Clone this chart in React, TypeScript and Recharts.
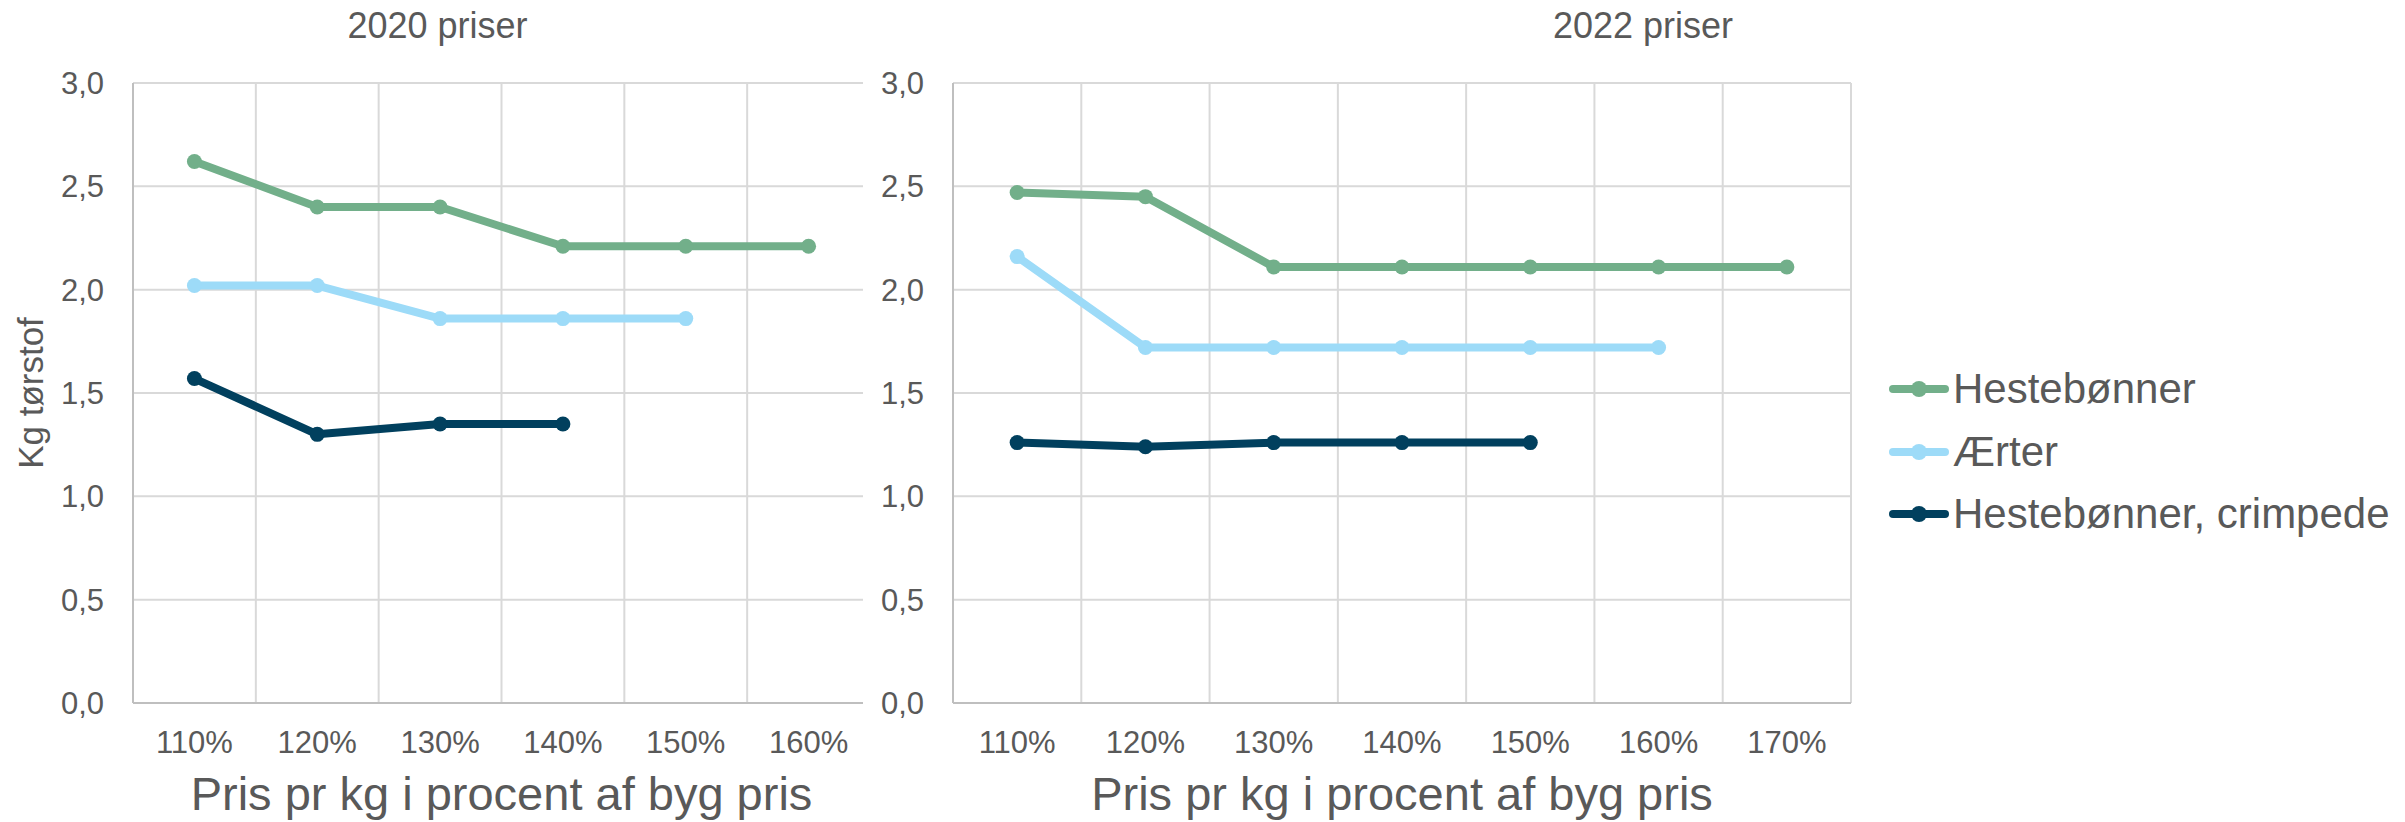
import React from 'react';
import { LineChart, Line, XAxis, YAxis, CartesianGrid, Legend } from 'recharts';

// kategorier (pris i procent af byg pris)
const kat2020 = ['110%', '120%', '130%', '140%', '150%', '160%'];
const kat2022 = ['110%', '120%', '130%', '140%', '150%', '160%', '170%'];

// kg tørstof, 2020 priser
const heste2020 = [2.62, 2.4, 2.4, 2.21, 2.21, 2.21];
const aerter2020 = [2.02, 2.02, 1.86, 1.86, 1.86, null];
const crimp2020 = [1.57, 1.3, 1.35, 1.35, null, null];

// kg tørstof, 2022 priser
const heste2022 = [2.47, 2.45, 2.11, 2.11, 2.11, 2.11, 2.11];
const aerter2022 = [2.16, 1.72, 1.72, 1.72, 1.72, 1.72, null];
const crimp2022 = [1.26, 1.24, 1.26, 1.26, 1.26, null, null];

const yTicks = [0, 0.5, 1, 1.5, 2, 2.5, 3];

const seriesNames = ['Hestebønner', 'Ærter', 'Hestebønner, crimpede'];
const seriesColors = ['#72AF8A', '#9DDBF8', '#01405E'];

const FONT = "'Liberation Sans', Arial, sans-serif";
const TEXT = '#595959';
const GRID = '#D9D9D9';
const AXIS = '#BFBFBF';

const rows2020 = kat2020.map((pris, i) => ({
  pris,
  heste: heste2020[i],
  aerter: aerter2020[i],
  crimp: crimp2020[i],
}));

const rows2022 = kat2022.map((pris, i) => ({
  pris,
  heste: heste2022[i],
  aerter: aerter2022[i],
  crimp: crimp2022[i],
}));

const fmt = (v: number) => v.toFixed(1).replace('.', ',');

function LegendBox({ payload }: any) {
  // keep the series order, recharts sorts the payload by name
  const items = [...(payload || [])].sort(
    (a: any, b: any) => seriesNames.indexOf(a.value) - seriesNames.indexOf(b.value)
  );
  return (
    <div style={{ fontFamily: FONT, fontSize: 42, color: TEXT, whiteSpace: 'nowrap' }}>
      {items.map((p: any) => (
        <div key={p.value} style={{ display: 'flex', alignItems: 'center', height: 62.5 }}>
          <svg width={64} height={20} style={{ display: 'block' }}>
            <line x1={4} y1={10} x2={56} y2={10} stroke={p.color} strokeWidth={8} strokeLinecap="round" />
            <circle cx={30} cy={10} r={8} fill={p.color} />
          </svg>
          <span style={{ lineHeight: '42px' }}>{p.value}</span>
        </div>
      ))}
    </div>
  );
}

interface PanelProps {
  data: any[];
  width: number;
  yAxisWidth: number;
  marginRight: number;
  yLabel?: boolean;
  legend?: boolean;
}

function Panel({ data, width, yAxisWidth, marginRight, yLabel, legend }: PanelProps) {
  const plotWidth = width - yAxisWidth - marginRight;
  const pad = plotWidth / data.length / 2;

  return (
    <LineChart
      width={width}
      height={822}
      data={data}
      margin={{ top: 83, right: marginRight, left: 0, bottom: 0 }}
    >
      <CartesianGrid
        stroke={GRID}
        strokeWidth={2}
        verticalCoordinatesGenerator={({ offset }: any) =>
          data.map((_, i) => offset.left + (offset.width * (i + 1)) / data.length)
        }
      />
      <XAxis
        dataKey="pris"
        type="category"
        interval={0}
        padding={{ left: pad, right: pad }}
        height={119}
        axisLine={{ stroke: AXIS, strokeWidth: 2 }}
        tickLine={false}
        tickSize={0}
        tickMargin={28}
        tick={{ fill: TEXT, fontSize: 31, fontFamily: FONT }}
        label={{
          value: 'Pris pr kg i procent af byg pris',
          position: 'insideBottom',
          offset: 12,
          fill: TEXT,
          fontSize: 47,
          fontFamily: FONT,
        }}
      />
      <YAxis
        type="number"
        domain={[0, 3]}
        ticks={yTicks}
        width={yAxisWidth}
        tickFormatter={fmt}
        axisLine={{ stroke: AXIS, strokeWidth: 2 }}
        tickLine={false}
        tickSize={0}
        tickMargin={29}
        tick={{ fill: TEXT, fontSize: 31, fontFamily: FONT }}
        label={
          yLabel
            ? {
                value: 'Kg tørstof',
                angle: -90,
                position: 'insideLeft',
                offset: 31,
                fill: TEXT,
                fontSize: 35,
                fontFamily: FONT,
                style: { textAnchor: 'middle' },
              }
            : undefined
        }
      />
      {legend && (
        <Legend
          layout="vertical"
          align="center"
          verticalAlign="middle"
          content={<LegendBox />}
          wrapperStyle={{ left: 1009, top: 358, width: 520 }}
        />
      )}
      {['heste', 'aerter', 'crimp'].map((key, i) => (
        <Line
          key={key}
          dataKey={key}
          name={seriesNames[i]}
          stroke={seriesColors[i]}
          strokeWidth={8}
          strokeLinejoin="round"
          dot={{ r: 7.5, fill: seriesColors[i], stroke: seriesColors[i], strokeWidth: 0 }}
          activeDot={false}
          isAnimationActive={false}
        />
      ))}
    </LineChart>
  );
}

export default function App() {
  const title: React.CSSProperties = {
    position: 'absolute',
    top: 7.5,
    width: 400,
    textAlign: 'center',
    fontFamily: FONT,
    fontSize: 36,
    lineHeight: '36px',
    color: TEXT,
  };

  return (
    <div style={{ position: 'absolute', left: 0, top: 0, width: 2405, height: 822, background: '#fff' }}>
      <div style={{ position: 'absolute', left: 0, top: 0, width: 863, height: 822, overflow: 'hidden' }}>
        <Panel data={rows2020} width={863} yAxisWidth={133} marginRight={-7} yLabel />
      </div>
      <div style={{ position: 'absolute', left: 880, top: 0, width: 1525, height: 822 }}>
        <Panel data={rows2022} width={1525} yAxisWidth={73} marginRight={554} legend />
      </div>
      <div style={{ ...title, left: 437.5 - 200 }}>2020 priser</div>
      <div style={{ ...title, left: 1643 - 200 }}>2022 priser</div>
    </div>
  );
}
